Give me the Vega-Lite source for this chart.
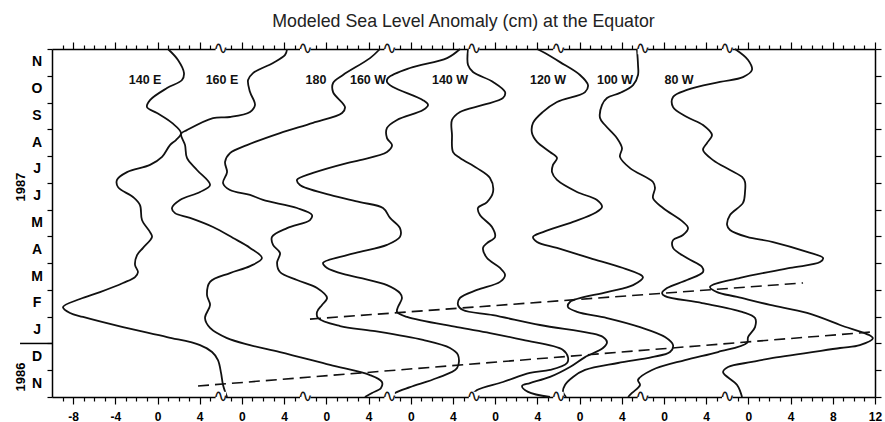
{
  "$schema": "https://vega.github.io/schema/vega-lite/v6.json",
  "width": 823,
  "height": 348,
  "autosize": {"type": "none"},
  "padding": {"left": 52, "top": 49, "right": 10, "bottom": 25},
  "background": "white",
  "config": {"view": {"stroke": null}, "axis": {"labelOverlap": false}},
  "title": {"text": "Modeled Sea Level Anomaly (cm) at the Equator", "font": "Liberation Sans", "fontSize": 17.8, "fontWeight": "normal", "color": "#222", "anchor": "middle", "offset": 9},
  "datasets": {
    "curves": [
      {"lon":"140E","pos":0.99,"month":13.0},{"lon":"140E","pos":1.94,"month":12.59},{"lon":"140E","pos":2.51,"month":12.10},{"lon":"140E","pos":2.32,"month":11.84},{"lon":"140E","pos":0.90,"month":11.54},{"lon":"140E","pos":-0.71,"month":11.09},{"lon":"140E","pos":-1.00,"month":10.83},{"lon":"140E","pos":-0.05,"month":10.61},{"lon":"140E","pos":1.37,"month":10.24},{"lon":"140E","pos":2.23,"month":9.86},{"lon":"140E","pos":1.75,"month":9.60},{"lon":"140E","pos":1.18,"month":9.41},{"lon":"140E","pos":0.43,"month":8.97},{"lon":"140E","pos":-0.71,"month":8.67},{"lon":"140E","pos":-2.89,"month":8.40},{"lon":"140E","pos":-3.84,"month":8.11},{"lon":"140E","pos":-3.74,"month":7.84},{"lon":"140E","pos":-2.32,"month":7.47},{"lon":"140E","pos":-1.66,"month":7.17},{"lon":"140E","pos":-1.47,"month":6.61},{"lon":"140E","pos":-0.71,"month":6.16},{"lon":"140E","pos":-0.52,"month":5.98},{"lon":"140E","pos":-1.37,"month":5.57},{"lon":"140E","pos":-1.94,"month":5.30},{"lon":"140E","pos":-2.13,"month":4.93},{"lon":"140E","pos":-1.85,"month":4.67},{"lon":"140E","pos":-2.13,"month":4.48},{"lon":"140E","pos":-3.27,"month":4.26},{"lon":"140E","pos":-5.45,"month":3.92},{"lon":"140E","pos":-7.35,"month":3.66},{"lon":"140E","pos":-8.96,"month":3.36},{"lon":"140E","pos":-8.29,"month":3.14},{"lon":"140E","pos":-7.06,"month":2.99},{"lon":"140E","pos":-3.27,"month":2.61},{"lon":"140E","pos":0.90,"month":2.24},{"lon":"140E","pos":4.03,"month":1.94},{"lon":"140E","pos":5.17,"month":1.68},{"lon":"140E","pos":5.73,"month":1.38},{"lon":"140E","pos":6.02,"month":0.90},{"lon":"140E","pos":6.21,"month":0.45},{"lon":"140E","pos":6.59,"month":0.0},
      {"lon":"160E","pos":12.28,"month":13.0},{"lon":"160E","pos":12.09,"month":12.78},{"lon":"160E","pos":10.95,"month":12.48},{"lon":"160E","pos":9.05,"month":12.10},{"lon":"160E","pos":8.58,"month":11.84},{"lon":"160E","pos":8.77,"month":11.39},{"lon":"160E","pos":9.24,"month":10.91},{"lon":"160E","pos":8.77,"month":10.65},{"lon":"160E","pos":6.87,"month":10.46},{"lon":"160E","pos":5.26,"month":10.42},{"lon":"160E","pos":2.79,"month":9.97},{"lon":"160E","pos":2.23,"month":9.83},{"lon":"160E","pos":2.61,"month":9.41},{"lon":"160E","pos":2.79,"month":8.93},{"lon":"160E","pos":3.74,"month":8.48},{"lon":"160E","pos":4.98,"month":7.92},{"lon":"160E","pos":4.03,"month":7.66},{"lon":"160E","pos":2.13,"month":7.36},{"lon":"160E","pos":1.37,"month":7.06},{"lon":"160E","pos":1.66,"month":6.87},{"lon":"160E","pos":3.08,"month":6.69},{"lon":"160E","pos":5.26,"month":6.35},{"lon":"160E","pos":7.16,"month":5.94},{"lon":"160E","pos":8.77,"month":5.57},{"lon":"160E","pos":9.90,"month":5.19},{"lon":"160E","pos":8.77,"month":4.89},{"lon":"160E","pos":6.87,"month":4.63},{"lon":"160E","pos":4.98,"month":4.30},{"lon":"160E","pos":4.69,"month":3.81},{"lon":"160E","pos":4.98,"month":3.44},{"lon":"160E","pos":4.50,"month":2.95},{"lon":"160E","pos":4.98,"month":2.58},{"lon":"160E","pos":6.59,"month":2.20},{"lon":"160E","pos":8.77,"month":1.94},{"lon":"160E","pos":11.61,"month":1.68},{"lon":"160E","pos":16.35,"month":1.20},{"lon":"160E","pos":20.14,"month":0.82},{"lon":"160E","pos":21.27,"month":0.56},{"lon":"160E","pos":21.18,"month":0.34},{"lon":"160E","pos":20.33,"month":0.15},{"lon":"160E","pos":19.66,"month":0.0},
      {"lon":"180","pos":21.08,"month":13.0},{"lon":"180","pos":20.14,"month":12.66},{"lon":"180","pos":17.58,"month":12.03},{"lon":"180","pos":16.64,"month":11.73},{"lon":"180","pos":16.64,"month":11.39},{"lon":"180","pos":17.77,"month":10.83},{"lon":"180","pos":17.49,"month":10.61},{"lon":"180","pos":14.74,"month":10.24},{"lon":"180","pos":11.61,"month":9.86},{"lon":"180","pos":8.48,"month":9.41},{"lon":"180","pos":6.87,"month":9.11},{"lon":"180","pos":6.40,"month":8.78},{"lon":"180","pos":6.59,"month":8.40},{"lon":"180","pos":6.21,"month":7.99},{"lon":"180","pos":6.87,"month":7.73},{"lon":"180","pos":8.77,"month":7.55},{"lon":"180","pos":10.00,"month":7.36},{"lon":"180","pos":13.22,"month":7.06},{"lon":"180","pos":14.64,"month":6.80},{"lon":"180","pos":14.45,"month":6.61},{"lon":"180","pos":12.28,"month":6.31},{"lon":"180","pos":10.85,"month":5.98},{"lon":"180","pos":10.95,"month":5.68},{"lon":"180","pos":11.61,"month":5.38},{"lon":"180","pos":11.33,"month":5.01},{"lon":"180","pos":11.61,"month":4.67},{"lon":"180","pos":13.22,"month":4.37},{"lon":"180","pos":15.12,"month":4.07},{"lon":"180","pos":16.07,"month":3.70},{"lon":"180","pos":15.59,"month":3.44},{"lon":"180","pos":15.12,"month":3.18},{"lon":"180","pos":15.21,"month":2.95},{"lon":"180","pos":17.30,"month":2.65},{"lon":"180","pos":20.42,"month":2.47},{"lon":"180","pos":25.16,"month":2.13},{"lon":"180","pos":27.72,"month":1.83},{"lon":"180","pos":28.48,"month":1.57},{"lon":"180","pos":28.39,"month":1.08},{"lon":"180","pos":26.49,"month":0.71},{"lon":"180","pos":23.93,"month":0.37},{"lon":"180","pos":22.51,"month":0.15},{"lon":"180","pos":22.04,"month":0.0},
      {"lon":"160W","pos":28.67,"month":13.0},{"lon":"160W","pos":27.44,"month":12.66},{"lon":"160W","pos":23.93,"month":12.29},{"lon":"160W","pos":21.85,"month":11.92},{"lon":"160W","pos":21.75,"month":11.77},{"lon":"160W","pos":22.32,"month":11.58},{"lon":"160W","pos":25.16,"month":11.09},{"lon":"160W","pos":25.64,"month":10.91},{"lon":"160W","pos":25.16,"month":10.72},{"lon":"160W","pos":22.70,"month":10.35},{"lon":"160W","pos":21.75,"month":10.05},{"lon":"160W","pos":21.75,"month":9.67},{"lon":"160W","pos":22.23,"month":9.41},{"lon":"160W","pos":21.75,"month":9.15},{"lon":"160W","pos":19.19,"month":8.85},{"lon":"160W","pos":17.96,"month":8.74},{"lon":"160W","pos":14.74,"month":8.37},{"lon":"160W","pos":13.22,"month":8.11},{"lon":"160W","pos":13.50,"month":7.92},{"lon":"160W","pos":16.35,"month":7.55},{"lon":"160W","pos":19.19,"month":7.28},{"lon":"160W","pos":21.37,"month":7.06},{"lon":"160W","pos":22.04,"month":6.69},{"lon":"160W","pos":22.98,"month":6.31},{"lon":"160W","pos":22.98,"month":5.98},{"lon":"160W","pos":21.75,"month":5.68},{"lon":"160W","pos":19.19,"month":5.42},{"lon":"160W","pos":17.96,"month":5.30},{"lon":"160W","pos":15.69,"month":5.01},{"lon":"160W","pos":16.07,"month":4.82},{"lon":"160W","pos":17.96,"month":4.56},{"lon":"160W","pos":19.19,"month":4.45},{"lon":"160W","pos":21.75,"month":4.18},{"lon":"160W","pos":22.98,"month":3.88},{"lon":"160W","pos":23.17,"month":3.70},{"lon":"160W","pos":22.79,"month":3.36},{"lon":"160W","pos":22.70,"month":3.18},{"lon":"160W","pos":23.65,"month":2.99},{"lon":"160W","pos":28.39,"month":2.61},{"lon":"160W","pos":31.51,"month":2.39},{"lon":"160W","pos":34.64,"month":2.13},{"lon":"160W","pos":38.43,"month":1.76},{"lon":"160W","pos":38.90,"month":1.49},{"lon":"160W","pos":38.81,"month":1.27},{"lon":"160W","pos":37.20,"month":1.01},{"lon":"160W","pos":35.30,"month":0.90},{"lon":"160W","pos":32.74,"month":0.56},{"lon":"160W","pos":30.28,"month":0.26},{"lon":"160W","pos":29.62,"month":0.0},
      {"lon":"140W","pos":29.43,"month":13.0},{"lon":"140W","pos":29.43,"month":12.40},{"lon":"140W","pos":29.90,"month":12.14},{"lon":"140W","pos":31.80,"month":11.77},{"lon":"140W","pos":32.94,"month":11.39},{"lon":"140W","pos":32.75,"month":11.17},{"lon":"140W","pos":30.85,"month":10.91},{"lon":"140W","pos":28.67,"month":10.65},{"lon":"140W","pos":27.91,"month":10.35},{"lon":"140W","pos":27.91,"month":9.79},{"lon":"140W","pos":28.01,"month":9.15},{"lon":"140W","pos":28.67,"month":8.93},{"lon":"140W","pos":30.28,"month":8.55},{"lon":"140W","pos":31.51,"month":8.18},{"lon":"140W","pos":31.80,"month":7.66},{"lon":"140W","pos":31.23,"month":7.28},{"lon":"140W","pos":30.37,"month":7.06},{"lon":"140W","pos":30.56,"month":6.80},{"lon":"140W","pos":31.70,"month":6.35},{"lon":"140W","pos":31.99,"month":5.98},{"lon":"140W","pos":31.23,"month":5.75},{"lon":"140W","pos":30.85,"month":5.57},{"lon":"140W","pos":31.23,"month":5.19},{"lon":"140W","pos":32.46,"month":4.82},{"lon":"140W","pos":32.94,"month":4.56},{"lon":"140W","pos":32.46,"month":4.30},{"lon":"140W","pos":30.28,"month":4.00},{"lon":"140W","pos":28.67,"month":3.70},{"lon":"140W","pos":28.48,"month":3.44},{"lon":"140W","pos":28.95,"month":3.25},{"lon":"140W","pos":31.80,"month":3.06},{"lon":"140W","pos":36.25,"month":2.69},{"lon":"140W","pos":40.99,"month":2.39},{"lon":"140W","pos":42.22,"month":2.24},{"lon":"140W","pos":42.60,"month":2.05},{"lon":"140W","pos":42.22,"month":1.83},{"lon":"140W","pos":40.52,"month":1.49},{"lon":"140W","pos":39.09,"month":1.12},{"lon":"140W","pos":37.20,"month":0.75},{"lon":"140W","pos":35.30,"month":0.52},{"lon":"140W","pos":34.55,"month":0.41},{"lon":"140W","pos":35.12,"month":0.19},{"lon":"140W","pos":37.20,"month":0.0},
      {"lon":"120W","pos":35.97,"month":13.0},{"lon":"120W","pos":36.72,"month":12.85},{"lon":"120W","pos":38.15,"month":12.51},{"lon":"120W","pos":40.04,"month":12.03},{"lon":"120W","pos":40.80,"month":11.65},{"lon":"120W","pos":40.52,"month":11.39},{"lon":"120W","pos":37.86,"month":11.02},{"lon":"120W","pos":36.53,"month":10.65},{"lon":"120W","pos":35.59,"month":10.24},{"lon":"120W","pos":35.49,"month":9.86},{"lon":"120W","pos":35.97,"month":9.53},{"lon":"120W","pos":37.20,"month":9.15},{"lon":"120W","pos":37.86,"month":8.93},{"lon":"120W","pos":37.48,"month":8.67},{"lon":"120W","pos":37.39,"month":8.40},{"lon":"120W","pos":37.86,"month":8.11},{"lon":"120W","pos":39.76,"month":7.66},{"lon":"120W","pos":41.65,"month":7.36},{"lon":"120W","pos":42.13,"month":7.10},{"lon":"120W","pos":41.46,"month":6.87},{"lon":"120W","pos":39.38,"month":6.54},{"lon":"120W","pos":36.53,"month":6.16},{"lon":"120W","pos":35.59,"month":5.98},{"lon":"120W","pos":35.97,"month":5.79},{"lon":"120W","pos":37.86,"month":5.57},{"lon":"120W","pos":40.99,"month":5.19},{"lon":"120W","pos":44.12,"month":4.82},{"lon":"120W","pos":46.01,"month":4.48},{"lon":"120W","pos":45.07,"month":4.18},{"lon":"120W","pos":42.60,"month":3.92},{"lon":"120W","pos":39.09,"month":3.55},{"lon":"120W","pos":38.90,"month":3.36},{"lon":"120W","pos":39.76,"month":3.18},{"lon":"120W","pos":42.60,"month":2.95},{"lon":"120W","pos":45.73,"month":2.61},{"lon":"120W","pos":48.10,"month":2.24},{"lon":"120W","pos":48.86,"month":1.94},{"lon":"120W","pos":48.57,"month":1.68},{"lon":"120W","pos":46.87,"month":1.49},{"lon":"120W","pos":43.64,"month":1.27},{"lon":"120W","pos":40.52,"month":1.01},{"lon":"120W","pos":39.38,"month":0.75},{"lon":"120W","pos":38.62,"month":0.45},{"lon":"120W","pos":38.43,"month":0.19},{"lon":"120W","pos":38.72,"month":0.0},
      {"lon":"100W","pos":45.44,"month":13.0},{"lon":"100W","pos":45.54,"month":12.40},{"lon":"100W","pos":45.54,"month":12.03},{"lon":"100W","pos":45.07,"month":11.65},{"lon":"100W","pos":43.83,"month":11.36},{"lon":"100W","pos":42.60,"month":11.17},{"lon":"100W","pos":42.13,"month":10.91},{"lon":"100W","pos":41.94,"month":10.42},{"lon":"100W","pos":42.41,"month":10.16},{"lon":"100W","pos":43.55,"month":9.67},{"lon":"100W","pos":44.02,"month":9.30},{"lon":"100W","pos":43.83,"month":8.97},{"lon":"100W","pos":44.78,"month":8.55},{"lon":"100W","pos":46.96,"month":8.03},{"lon":"100W","pos":47.15,"month":7.81},{"lon":"100W","pos":46.96,"month":7.43},{"lon":"100W","pos":47.91,"month":7.06},{"lon":"100W","pos":49.80,"month":6.54},{"lon":"100W","pos":50.28,"month":6.31},{"lon":"100W","pos":49.80,"month":6.05},{"lon":"100W","pos":48.86,"month":5.86},{"lon":"100W","pos":48.86,"month":5.57},{"lon":"100W","pos":50.18,"month":5.19},{"lon":"100W","pos":51.61,"month":4.86},{"lon":"100W","pos":51.70,"month":4.67},{"lon":"100W","pos":50.18,"month":4.37},{"lon":"100W","pos":48.29,"month":4.07},{"lon":"100W","pos":47.82,"month":3.88},{"lon":"100W","pos":48.10,"month":3.77},{"lon":"100W","pos":51.61,"month":3.51},{"lon":"100W","pos":55.40,"month":3.18},{"lon":"100W","pos":56.63,"month":2.95},{"lon":"100W","pos":56.63,"month":2.61},{"lon":"100W","pos":55.97,"month":2.24},{"lon":"100W","pos":55.87,"month":2.02},{"lon":"100W","pos":53.12,"month":1.68},{"lon":"100W","pos":49.99,"month":1.38},{"lon":"100W","pos":46.87,"month":1.01},{"lon":"100W","pos":45.54,"month":0.64},{"lon":"100W","pos":45.73,"month":0.45},{"lon":"100W","pos":44.97,"month":0.15},{"lon":"100W","pos":44.60,"month":0.0},
      {"lon":"80W","pos":54.73,"month":13.0},{"lon":"80W","pos":55.97,"month":12.59},{"lon":"80W","pos":56.34,"month":12.22},{"lon":"80W","pos":55.49,"month":11.95},{"lon":"80W","pos":53.31,"month":11.77},{"lon":"80W","pos":50.18,"month":11.47},{"lon":"80W","pos":48.86,"month":11.21},{"lon":"80W","pos":48.86,"month":10.83},{"lon":"80W","pos":50.18,"month":10.46},{"lon":"80W","pos":51.70,"month":10.16},{"lon":"80W","pos":52.55,"month":9.79},{"lon":"80W","pos":52.08,"month":9.49},{"lon":"80W","pos":51.70,"month":9.23},{"lon":"80W","pos":52.65,"month":8.85},{"lon":"80W","pos":54.26,"month":8.48},{"lon":"80W","pos":55.40,"month":8.22},{"lon":"80W","pos":55.68,"month":8.03},{"lon":"80W","pos":55.68,"month":7.66},{"lon":"80W","pos":55.49,"month":7.25},{"lon":"80W","pos":54.26,"month":6.80},{"lon":"80W","pos":53.98,"month":6.43},{"lon":"80W","pos":54.26,"month":6.24},{"lon":"80W","pos":55.87,"month":5.98},{"lon":"80W","pos":58.34,"month":5.79},{"lon":"80W","pos":61.56,"month":5.42},{"lon":"80W","pos":63.08,"month":5.19},{"lon":"80W","pos":62.79,"month":5.04},{"lon":"80W","pos":59.95,"month":4.82},{"lon":"80W","pos":55.21,"month":4.45},{"lon":"80W","pos":52.36,"month":4.11},{"lon":"80W","pos":53.03,"month":3.92},{"lon":"80W","pos":54.93,"month":3.74},{"lon":"80W","pos":58.05,"month":3.44},{"lon":"80W","pos":61.56,"month":3.14},{"lon":"80W","pos":64.69,"month":2.69},{"lon":"80W","pos":67.80,"month":2.20},{"lon":"80W","pos":66.56,"month":1.94},{"lon":"80W","pos":64.69,"month":1.83},{"lon":"80W","pos":58.34,"month":1.46},{"lon":"80W","pos":56.34,"month":1.31},{"lon":"80W","pos":54.07,"month":1.12},{"lon":"80W","pos":53.60,"month":0.93},{"lon":"80W","pos":54.93,"month":0.45},{"lon":"80W","pos":55.40,"month":0.0}
    ],
    "fronts": [
      {"front":"downwelling","pos":3.84,"month":0.41},{"front":"downwelling","pos":67.7,"month":2.43},
      {"front":"upwelling","pos":14.45,"month":2.91},{"front":"upwelling","pos":61.18,"month":4.26}
    ],
    "labels": [
      {"lon":"140 E","pos":-1.18,"month":11.84},{"lon":"160 E","pos":6.11,"month":11.84},{"lon":"180","pos":15.02,"month":11.84},{"lon":"160 W","pos":19.95,"month":11.84},{"lon":"140 W","pos":27.72,"month":11.84},{"lon":"120 W","pos":37.01,"month":11.84},{"lon":"100 W","pos":43.36,"month":11.84},{"lon":"80 W","pos":49.43,"month":11.84}
    ],
    "months": [
      {"letter":"N","month":0.5},{"letter":"D","month":1.5},{"letter":"J","month":2.5},{"letter":"F","month":3.5},{"letter":"M","month":4.5},{"letter":"A","month":5.5},{"letter":"M","month":6.5},{"letter":"J","month":7.5},{"letter":"J","month":8.5},{"letter":"A","month":9.5},{"letter":"S","month":10.5},{"letter":"O","month":11.5},{"letter":"N","month":12.5}
    ],
    "breaks": [
      {"pos":6,"month":0},{"pos":14,"month":0},{"pos":22,"month":0},{"pos":30,"month":0},{"pos":38,"month":0},{"pos":46,"month":0},{"pos":54,"month":0},
      {"pos":6,"month":13},{"pos":14,"month":13},{"pos":22,"month":13},{"pos":30,"month":13},{"pos":38,"month":13},{"pos":46,"month":13},{"pos":54,"month":13}
    ],
    "years": [
      {"year":"1987","pos":-12.95,"month":7.84},{"year":"1986","pos":-12.95,"month":0.75}
    ]
  },
  "layer": [
    {
      "layer": [
        {
          "data": {"name": "curves"},
          "mark": {"type": "line", "interpolate": "catmull-rom", "color": "#111", "strokeWidth": 1.8},
          "encoding": {
            "x": {"field": "pos", "type": "quantitative", "scale": {"domain": [-10, 68], "nice": false, "zero": false},
              "axis": {"orient": "bottom", "offset": 0, "title": null, "grid": false, "ticks": false, "domain": false,
                "values": [-8,-4,0,4,8,12,16,20,24,28,32,36,40,44,48,52,56,60,64,68],
                "labelExpr": "datum.value <= 4 ? datum.value : (datum.value >= 64 ? datum.value - 56 : datum.value % 8)",
                "labelFont": "Liberation Sans", "labelFontSize": 12, "labelFontWeight": "bold", "labelColor": "#000",
                "labelPadding": 14, "labelFlush": false, "labelOverlap": false, "labelBound": false}},
            "y": {"field": "month", "type": "quantitative", "scale": {"domain": [0, 13], "nice": false, "zero": false},
              "axis": {"orient": "left", "offset": 0, "title": null, "grid": false, "ticks": false, "domain": false, "labels": false}},
            "detail": {"field": "lon"},
            "order": {"field": "month", "type": "quantitative"}
          }
        },
        {
          "data": {"name": "fronts"},
          "mark": {"type": "line", "color": "#111", "strokeWidth": 1.6, "strokeDash": [11, 6]},
          "encoding": {
            "x": {"field": "pos", "type": "quantitative"},
            "y": {"field": "month", "type": "quantitative"},
            "detail": {"field": "front"}
          }
        },
        {
          "data": {"name": "breaks"},
          "mark": {"type": "point", "shape": "square", "size": 110, "filled": true, "color": "white", "opacity": 1},
          "encoding": {
            "x": {"field": "pos", "type": "quantitative"},
            "y": {"field": "month", "type": "quantitative"}
          }
        },
        {
          "data": {"name": "breaks"},
          "mark": {"type": "text", "text": "∿", "font": "DejaVu Sans", "fontSize": 18, "color": "#111", "baseline": "middle", "align": "center"},
          "encoding": {
            "x": {"field": "pos", "type": "quantitative"},
            "y": {"field": "month", "type": "quantitative"}
          }
        },
        {
          "data": {"name": "labels"},
          "mark": {"type": "text", "font": "Liberation Sans", "fontSize": 12.5, "fontWeight": "bold", "color": "#111", "baseline": "middle", "align": "center"},
          "encoding": {
            "x": {"field": "pos", "type": "quantitative"},
            "y": {"field": "month", "type": "quantitative"},
            "text": {"field": "lon"}
          }
        },
        {
          "data": {"name": "months"},
          "mark": {"type": "text", "font": "Liberation Sans", "fontSize": 14, "fontWeight": "bold", "color": "#000", "baseline": "middle", "align": "center"},
          "encoding": {
            "x": {"datum": -11.42, "type": "quantitative"},
            "y": {"field": "month", "type": "quantitative"},
            "text": {"field": "letter"}
          }
        },
        {
          "data": {"name": "years"},
          "mark": {"type": "text", "font": "Liberation Sans", "fontSize": 13, "fontWeight": "bold", "color": "#000", "baseline": "middle", "align": "center", "angle": 270},
          "encoding": {
            "x": {"field": "pos", "type": "quantitative"},
            "y": {"field": "month", "type": "quantitative"},
            "text": {"field": "year"}
          }
        },
        {
          "data": {"values": [{"boundary": "1987"}]},
          "mark": {"type": "rule", "color": "#000", "strokeWidth": 1.5},
          "encoding": {
            "x": {"datum": -13.03, "type": "quantitative"},
            "x2": {"datum": -10},
            "y": {"datum": 2, "type": "quantitative"}
          }
        }
      ]
    },
    {
      "data": {"values": [{"pos": 0, "month": 0}]},
      "mark": {"type": "point", "opacity": 0},
      "encoding": {
        "x": {"field": "pos", "type": "quantitative", "scale": {"domain": [-10, 68], "nice": false, "zero": false},
          "axis": {"orient": "top", "offset": 0, "title": null, "grid": false, "labels": false,
            "values": [-9,-8,-7,-6,-5,-4,-3,-2,-1,0,1,2,3,4,5,7,8,9,10,11,12,13,15,16,17,18,19,20,21,23,24,25,26,27,28,29,31,32,33,34,35,36,37,39,40,41,42,43,44,45,47,48,49,50,51,52,53,55,56,57,58,59,60,61,62,63,64,65,66,67,68],
            "tickSize": {"condition": {"test": "datum.value % 4 == 0", "value": 7}, "value": 4},
            "domainColor": "#000", "domainWidth": 1.5, "tickColor": "#000", "tickWidth": 1.2}},
        "y": {"field": "month", "type": "quantitative", "scale": {"domain": [0, 13], "nice": false, "zero": false},
          "axis": {"orient": "right", "offset": 0, "title": null, "grid": false, "labels": false,
            "values": [0,1,2,3,4,5,6,7,8,9,10,11,12,13],
            "tickSize": 6, "domainColor": "#000", "domainWidth": 1.5, "tickColor": "#000", "tickWidth": 1.2}}
      }
    },
    {
      "data": {"values": [{"pos": 0, "month": 0}]},
      "mark": {"type": "point", "opacity": 0},
      "encoding": {
        "x": {"field": "pos", "type": "quantitative", "scale": {"domain": [-10, 68], "nice": false, "zero": false},
          "axis": {"orient": "bottom", "offset": 0, "title": null, "grid": false, "labels": false,
            "values": [-9,-8,-7,-6,-5,-4,-3,-2,-1,0,1,2,3,4,5,7,8,9,10,11,12,13,15,16,17,18,19,20,21,23,24,25,26,27,28,29,31,32,33,34,35,36,37,39,40,41,42,43,44,45,47,48,49,50,51,52,53,55,56,57,58,59,60,61,62,63,64,65,66,67,68],
            "tickSize": {"condition": {"test": "datum.value % 4 == 0", "value": 7}, "value": 4},
            "domainColor": "#000", "domainWidth": 1.5, "tickColor": "#000", "tickWidth": 1.2}},
        "y": {"field": "month", "type": "quantitative", "scale": {"domain": [0, 13], "nice": false, "zero": false},
          "axis": {"orient": "left", "offset": 0, "title": null, "grid": false, "labels": false,
            "values": [0,1,2,3,4,5,6,7,8,9,10,11,12,13],
            "tickSize": 5, "domainColor": "#000", "domainWidth": 1.5, "tickColor": "#000", "tickWidth": 1.2}}
      }
    }
  ],
  "resolve": {"scale": {"x": "independent", "y": "independent"}}
}
